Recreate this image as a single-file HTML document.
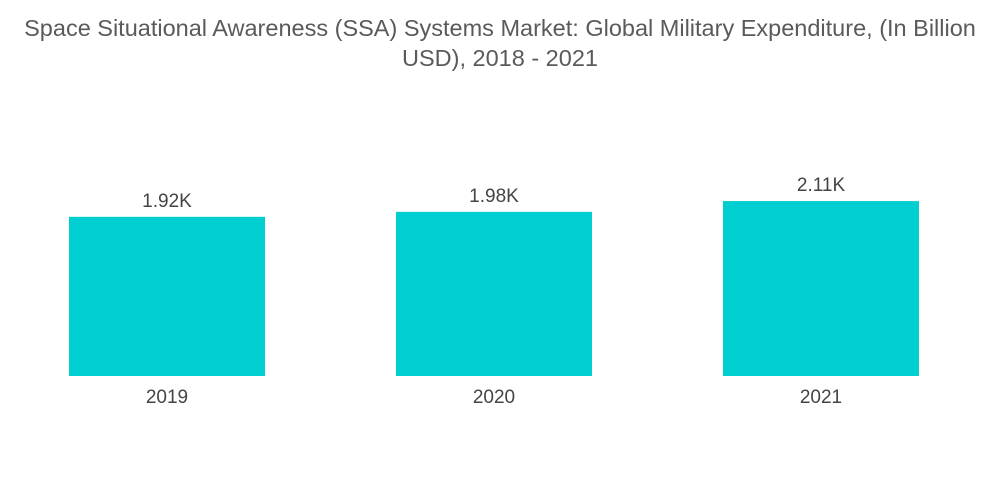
<!DOCTYPE html>
<html><head><meta charset="utf-8"><style>
body{margin:0;width:1000px;height:504px;background:#fff;font-family:"Liberation Sans",sans-serif;overflow:hidden}
#title{position:absolute;top:13px;left:0;width:1000px;text-align:center;font-size:23.5px;line-height:30px;color:#5a5a5a;white-space:nowrap}
</style></head><body>
<div id="title">Space Situational Awareness (SSA) Systems Market: Global Military Expenditure, (In Billion<br>USD), 2018 - 2021</div>
<svg id="chart" width="1000" height="504" style="position:absolute;left:0;top:0"></svg>
<script>
const categories=["2019","2020","2021"];
const values=[1920,1980,2110];
const labels=["1.92K","1.98K","2.11K"];
const svg=document.getElementById('chart');
const NS="http://www.w3.org/2000/svg";
const base=376, k=0.0829;
const y=v=>base-v*k;
const x=i=>69+i*327;
const bw=196;
categories.forEach((c,i)=>{
  const r=document.createElementNS(NS,'rect');
  r.setAttribute('x',x(i));r.setAttribute('y',y(values[i]));
  r.setAttribute('width',bw);r.setAttribute('height',base-y(values[i]));
  r.setAttribute('fill','#00ced1');
  
  
  svg.appendChild(r);
  const t=document.createElementNS(NS,'text');
  t.setAttribute('x',x(i)+bw/2);t.setAttribute('y',y(values[i])-10);
  t.setAttribute('text-anchor','middle');t.setAttribute('font-size','19');t.setAttribute('fill','#444');
  t.textContent=labels[i];
  
  
  svg.appendChild(t);
  const a=document.createElementNS(NS,'text');
  a.setAttribute('x',x(i)+bw/2);a.setAttribute('y',403);
  a.setAttribute('text-anchor','middle');a.setAttribute('font-size','19');a.setAttribute('fill','#444');
  a.textContent=c;
  
  
  svg.appendChild(a);
});
</script>
</body></html>
